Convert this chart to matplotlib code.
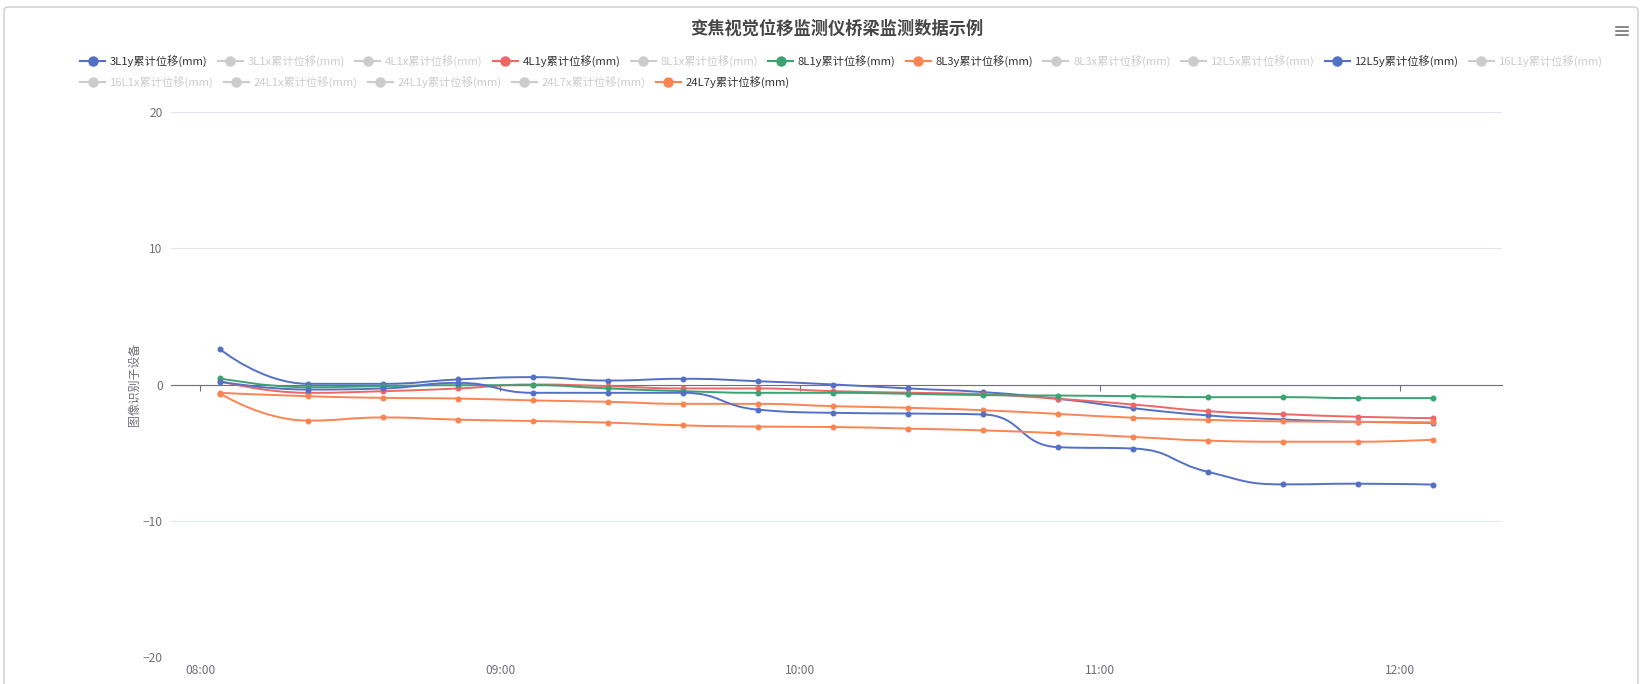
import matplotlib
matplotlib.use('Agg')
import matplotlib.pyplot as plt
from matplotlib.path import Path
from matplotlib.patches import PathPatch, FancyBboxPatch
from matplotlib.lines import Line2D
from matplotlib.transforms import IdentityTransform
import math

plt.rcParams['font.family'] = ['Noto Sans CJK SC', 'DejaVu Sans']

# sample times (hh:mm:ss)
times = ['08:04:05', '08:21:35', '08:36:40', '08:51:40', '09:06:40', '09:21:40',
         '09:36:40', '09:51:40', '10:06:40', '10:21:40', '10:36:40', '10:51:40',
         '11:06:40', '11:21:40', '11:36:40', '11:51:40', '12:06:40']

s_3L1y = [2.57, 0.05, 0.05, 0.37, 0.54, 0.29, 0.42, 0.24, 0.0, -0.29, -0.56, -1.05,
          -1.74, -2.27, -2.57, -2.74, -2.81]
s_4L1y = [0.24, -0.61, -0.49, -0.29, 0.0, -0.12, -0.29, -0.29, -0.49, -0.6, -0.72, -1.05,
          -1.47, -1.96, -2.18, -2.37, -2.47]
s_8L1y = [0.45, -0.2, -0.12, -0.05, -0.05, -0.29, -0.49, -0.61, -0.61, -0.68, -0.78, -0.81,
          -0.86, -0.93, -0.93, -1.0, -1.0]
s_8L3y = [-0.61, -0.86, -0.98, -1.03, -1.17, -1.27, -1.42, -1.42, -1.59, -1.71, -1.89, -2.16,
          -2.44, -2.6, -2.71, -2.74, -2.78]
s_12L5y = [0.2, -0.37, -0.29, 0.12, -0.61, -0.61, -0.61, -1.85, -2.08, -2.13, -2.2, -4.6,
           -4.7, -6.42, -7.33, -7.28, -7.35]
s_24L7y = [-0.67, -2.65, -2.42, -2.58, -2.68, -2.8, -3.0, -3.09, -3.12, -3.24, -3.37, -3.58,
           -3.85, -4.12, -4.2, -4.2, -4.05]

legend_names = ['3L1y累计位移(mm)', '3L1x累计位移(mm)', '4L1x累计位移(mm)', '4L1y累计位移(mm)',
                '8L1x累计位移(mm)', '8L1y累计位移(mm)', '8L3y累计位移(mm)', '8L3x累计位移(mm)',
                '12L5x累计位移(mm)', '12L5y累计位移(mm)', '16L1y累计位移(mm)', '16L1x累计位移(mm)',
                '24L1x累计位移(mm)', '24L1y累计位移(mm)', '24L7x累计位移(mm)', '24L7y累计位移(mm)']
palette = ['#5470c6', '#91cc75', '#fac858', '#ee6666', '#73c0de', '#3ba272', '#fc8452',
           '#9a60b4', '#ea7ccc']
shown = {'3L1y累计位移(mm)': s_3L1y, '4L1y累计位移(mm)': s_4L1y, '8L1y累计位移(mm)': s_8L1y,
         '8L3y累计位移(mm)': s_8L3y, '12L5y累计位移(mm)': s_12L5y, '24L7y累计位移(mm)': s_24L7y}

hour_ticks = [0, 60, 120, 180, 240]
hour_labels = ['08:00', '09:00', '10:00', '11:00', '12:00']


def to_min(t):
    h, m, s = [int(v) for v in t.split(':')]
    return (h - 8) * 60 + m + s / 60.0


W, H = 1641, 684
fig = plt.figure(figsize=(W / 100, H / 100), dpi=100)
ax = fig.add_axes([171 / W, 1 - 657 / H, (1502 - 171) / W, (657 - 112) / H])
ax.set_xlim(-5.8, 260.4)
ax.set_ylim(-20, 20)

axis_grey = '#6e7079'
ax.set_yticks([-20, -10, 0, 10, 20])
ax.yaxis.grid(True, color='#e0e6f1', linewidth=0.8)
ax.tick_params(axis='y', length=0, pad=6, labelsize=8.6, labelcolor=axis_grey)
for sp in ['left', 'top', 'right']:
    ax.spines[sp].set_visible(False)
ax.spines['bottom'].set_position(('data', 0))
ax.spines['bottom'].set_color(axis_grey)
ax.spines['bottom'].set_linewidth(0.8)
ax.set_xticks(hour_ticks)
ax.tick_params(axis='x', length=4, width=0.8, color=axis_grey, labelbottom=False)
ax.set_axisbelow(True)

sec = ax.secondary_xaxis('bottom')
sec.set_xticks(hour_ticks)
sec.set_xticklabels(hour_labels)
sec.spines['bottom'].set_visible(False)
sec.tick_params(length=0, pad=5, labelsize=8.6, labelcolor=axis_grey)

ax.set_ylabel('图像识别子设备', fontsize=8.6, color=axis_grey, labelpad=4)
ax.yaxis.set_label_coords(-(171 - 141) / (1502 - 171), 0.5)


def clamp(v, a, b):
    lo, hi = min(a, b), max(a, b)
    return max(lo, min(hi, v))


def smooth_path(xs, ys, k=0.5):
    pts = ax.transData.transform(list(zip(xs, ys)))
    n = len(pts)
    verts = [tuple(pts[0])]
    codes = [Path.MOVETO]
    cp0 = tuple(pts[0])
    for i in range(1, n):
        x, y = pts[i]
        px, py = pts[i - 1]
        if i == n - 1:
            cp1 = (x, y)
            nxt_cp0 = (x, y)
        else:
            nx, ny = pts[i + 1]
            vx, vy = nx - px, ny - py
            l0 = math.hypot(x - px, y - py)
            l1 = math.hypot(nx - x, ny - y)
            r = l1 / (l0 + l1)
            ncx = clamp(x + vx * k * r, nx, x)
            ncy = clamp(y + vy * k * r, ny, y)
            vx, vy = ncx - x, ncy - y
            c1x = clamp(x - vx * l0 / l1, px, x)
            c1y = clamp(y - vy * l0 / l1, py, y)
            vx, vy = x - c1x, y - c1y
            ncx = x + vx * l1 / l0
            ncy = y + vy * l1 / l0
            cp1 = (c1x, c1y)
            nxt_cp0 = (ncx, ncy)
        verts += [cp0, cp1, (x, y)]
        codes += [Path.CURVE4] * 3
        cp0 = nxt_cp0
    data_verts = ax.transData.inverted().transform(verts)
    return Path(data_verts, codes)


xm = [to_min(t) for t in times]
for idx, name in enumerate(legend_names):
    if name not in shown:
        continue
    color = palette[idx % len(palette)]
    vals = shown[name]
    ax.add_patch(PathPatch(smooth_path(xm, vals), fill=False, edgecolor=color,
                           linewidth=1.4, zorder=3 + idx * 0.1))
    ax.plot(xm, vals, linestyle='none', marker='o', markersize=3.3, color=color,
            zorder=3.05 + idx * 0.1)

# title
fig.text(837 / W, 1 - 29 / H, '变焦视觉位移监测仪桥梁监测数据示例', ha='center', va='center',
         fontsize=12.4, fontweight='bold', color='#464646')

# legend
renderer = fig.canvas.get_renderer()
rows = [legend_names[:11], legend_names[11:]]
row_y = [61, 82]
for r, names in enumerate(rows):
    x0 = 80
    for name in names:
        idx = legend_names.index(name)
        active = name in shown
        color = palette[idx % len(palette)] if active else '#cccccc'
        yy = 1 - row_y[r] / H
        fig.add_artist(Line2D([x0 / W, (x0 + 25) / W], [yy, yy], color=color, linewidth=1.5))
        fig.add_artist(Line2D([(x0 + 12.5) / W], [yy], marker='o', markersize=6.5,
                              color=color, linestyle='none'))
        t = fig.text((x0 + 30) / W, yy, name, ha='left', va='center', fontsize=8.1,
                     color='#333333' if active else '#cccccc')
        tw = t.get_window_extent(renderer).width
        x0 += 25 + 5 + tw + 10

# menu icon
for dy in [-4, 0, 4]:
    fig.add_artist(Line2D([1616 / W, 1628 / W], [1 - (31 + dy) / H] * 2, color='#666666',
                          linewidth=1.1))

# container border
fig.patches.append(FancyBboxPatch((4, -20), 1634, H - 3 + 20 - 4,
                                  boxstyle='round,pad=0,rounding_size=4',
                                  transform=IdentityTransform(), fill=False,
                                  edgecolor='#cccccc', linewidth=1))

fig.savefig('out.png', dpi=100)
